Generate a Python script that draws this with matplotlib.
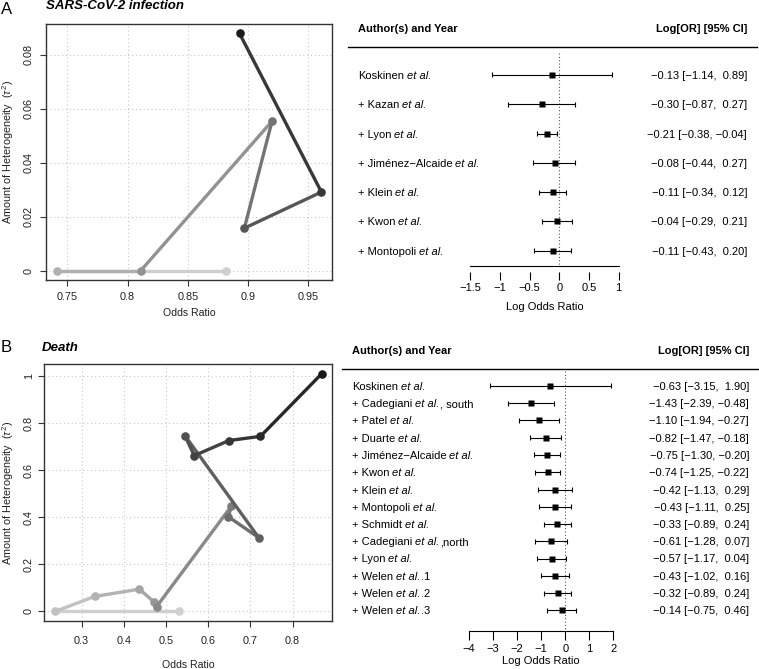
import matplotlib
matplotlib.use('Agg')
import matplotlib.pyplot as plt
from matplotlib.transforms import offset_copy
import numpy as np

plt.rcParams['font.family'] = ['Liberation Sans', 'DejaVu Sans']
plt.rcParams['mathtext.fontset'] = 'custom'
plt.rcParams['mathtext.rm'] = 'Liberation Sans'
plt.rcParams['mathtext.it'] = 'Liberation Sans:italic'
plt.rcParams['mathtext.bf'] = 'Liberation Sans:bold'

# ---------------- data ----------------
# Panel A: SARS-CoV-2 infection (cumulative meta-analysis)
A_names = ["Koskinen", "Kazan", "Lyon", "Jiménez\u2212Alcaide", "Klein", "Kwon", "Montopoli"]
A_suffix = ["", "", "", "", "", "", ""]
A_est = [-0.13, -0.30, -0.21, -0.08, -0.11, -0.04, -0.11]
A_lo = [-1.14, -0.87, -0.38, -0.44, -0.34, -0.29, -0.43]
A_hi = [0.89, 0.27, -0.04, 0.27, 0.12, 0.21, 0.20]
A_or = [0.882, 0.741, 0.811, 0.920, 0.897, 0.961, 0.893]
A_tau2 = [0.0, 0.0, 0.0, 0.0554, 0.0157, 0.0291, 0.0879]
A_xticks = [0.75, 0.8, 0.85, 0.9, 0.95]
A_yticks = [0, 0.02, 0.04, 0.06, 0.08]
A_ylabels = ["0", "0.02", "0.04", "0.06", "0.08"]
A_fticks = [-1.5, -1, -0.5, 0, 0.5, 1]
A_fticklabels = ["\u22121.5", "\u22121", "\u22120.5", "0", "0.5", "1"]

# Panel B: Death
B_names = ["Koskinen", "Cadegiani", "Patel", "Duarte", "Jiménez\u2212Alcaide", "Kwon", "Klein",
           "Montopoli", "Schmidt", "Cadegiani", "Lyon", "Welen", "Welen", "Welen"]
B_suffix = ["", ", south", "", "", "", "", "", "", "", ",north", "", ".1", ".2", ".3"]
B_est = [-0.63, -1.43, -1.10, -0.82, -0.75, -0.74, -0.42, -0.43, -0.33, -0.61, -0.57, -0.43, -0.32, -0.14]
B_lo = [-3.15, -2.39, -1.94, -1.47, -1.30, -1.25, -1.13, -1.11, -0.89, -1.28, -1.17, -1.02, -0.89, -0.75]
B_hi = [1.90, -0.48, -0.27, -0.18, -0.20, -0.22, 0.29, 0.25, 0.24, 0.07, 0.04, 0.16, 0.24, 0.46]
B_or = [0.532, 0.237, 0.331, 0.437, 0.471, 0.478, 0.655, 0.648, 0.720, 0.545, 0.567, 0.649, 0.724, 0.869]
B_tau2 = [0.0, 0.0, 0.064, 0.095, 0.042, 0.021, 0.448, 0.403, 0.314, 0.748, 0.663, 0.727, 0.745, 1.011]
B_xticks = [0.3, 0.4, 0.5, 0.6, 0.7, 0.8]
B_yticks = [0, 0.2, 0.4, 0.6, 0.8, 1.0]
B_ylabels = ["0", "0.2", "0.4", "0.6", "0.8", "1"]
B_fticks = [-4, -3, -2, -1, 0, 1, 2]
B_fticklabels = ["\u22124", "\u22123", "\u22122", "\u22121", "0", "1", "2"]

# ---------------- figure ----------------
W, H = 759, 669
fig = plt.figure(figsize=(W / 100, H / 100), dpi=100)
renderer = fig.canvas.get_renderer()


def rect(l, t, r, b):
    return [l / W, 1 - b / H, (r - l) / W, (b - t) / H]


def path_plot(r, x, y, xticks, yticks, ylabels, xpad, ypad, xlab_px, ylab_px):
    l, t, rr, b = r
    ax = fig.add_axes(rect(*r))
    n = len(x)
    levels = np.linspace(0.81, 0.10, n)
    cols = [str(round(v, 3)) for v in levels]
    for i in range(n - 1):
        ax.plot(x[i:i + 2], y[i:i + 2], color=cols[i], lw=2.4,
                solid_capstyle='round', zorder=3 + i)
    for i in range(n):
        ax.plot(x[i], y[i], 'o', color=cols[i], ms=6.2, mec='none', zorder=3 + i)
    ax.margins(0.04)
    ax.set_xticks(xticks)
    ax.set_xticklabels([f"{v:g}" for v in xticks])
    ax.set_yticks(yticks)
    ax.set_yticklabels(ylabels, rotation=90, va='center')
    ax.grid(True, ls=(0, (1, 2.5)), color='#c8c8c8', lw=0.8)
    ax.set_axisbelow(True)
    ax.tick_params(axis='both', direction='out', length=4, width=0.8,
                   color='#333333', labelsize=7.8, labelcolor='#222222')
    ax.tick_params(axis='x', pad=xpad)
    ax.tick_params(axis='y', pad=ypad)
    for s in ax.spines.values():
        s.set_color('#333333')
        s.set_linewidth(1.0)
    ax.set_xlabel("Odds Ratio", fontsize=7.6, va='center', color='#222222')
    ax.xaxis.set_label_coords(0.5, (b - xlab_px) / (b - t))
    ax.set_ylabel("Amount of Heterogeneity  $(\\tau^2)$", fontsize=7.8, va='center', color='#222222')
    ax.yaxis.set_label_coords((ylab_px - l) / (rr - l), 0.5)
    return ax


path_plot((46, 24, 332, 280), A_or, A_tau2, A_xticks, A_yticks, A_ylabels,
          xpad=5.0, ypad=5.0, xlab_px=313, ylab_px=8.5)
path_plot((44.3, 364.3, 332.3, 621), B_or, B_tau2, B_xticks, B_yticks, B_ylabels,
          xpad=7.0, ypad=3.5, xlab_px=665, ylab_px=8.5)


def fmt(v):
    return f"{v:5.2f}".replace("-", "\u2212")


def forest(r, x0, xs, y0, ys, names, suffix, est, lo, hi, fticks, fticklabels, L):
    ax = fig.add_axes(rect(*r))
    ax.set_axis_off()
    fx = lambda p: (p - x0) / xs
    fy = lambda p: (p - y0) / ys
    ax.set_xlim(fx(r[0]), fx(r[2]))
    ax.set_ylim(fy(r[3]), fy(r[1]))
    n = len(est)
    rows = np.arange(n)
    fs = 8
    space_px = 0.278 * fs * 100 / 72
    base_drop = -4.0  # baseline sits ~4 px below the row centre
    # header
    ax.text(fx(L['left']), fy(L['header']), "Author(s) and Year", fontweight='bold',
            fontsize=fs, ha='left', va='center')
    ax.text(fx(L['right']), fy(L['header']), "Log[OR] [95% CI]", fontweight='bold',
            fontsize=fs, ha='right', va='center')
    ax.plot([fx(L['line_x0']), fx(L['line_x1'])], [fy(L['line'])] * 2, color='black', lw=1.0)
    # zero reference line
    ax.vlines(0, fy(L['zero_top']), fy(L['axis']), colors='#555555', lw=0.8,
              linestyles=(0, (1, 2)))
    # CIs and estimates
    cap = L['cap'] / ys
    ax.hlines(rows, lo, hi, colors='black', lw=0.8)
    ax.vlines(lo, rows - cap, rows + cap, colors='black', lw=0.8)
    ax.vlines(hi, rows - cap, rows + cap, colors='black', lw=0.8)
    ax.plot(est, rows, 's', color='black', ms=4.4, mec='none', zorder=5)
    # row text (name, italic "et al.", suffix) on a shared baseline
    xl = fx(L['left'])
    for i in range(n):
        parts = [(("" if i == 0 else "+ ") + names[i], 'normal', 0.0),
                 ("et al.", 'italic', space_px)]
        suf = suffix[i]
        if suf:
            if suf.startswith(" "):
                parts.append((suf.strip(), 'normal', space_px))
            else:
                parts.append((suf, 'normal', 0.8))
        dx = 0.0
        for s, style, gap in parts:
            dx += gap
            tr = offset_copy(ax.transData, fig=fig, x=dx, y=base_drop, units='dots')
            t = ax.text(xl, rows[i], s, fontsize=fs, fontstyle=style, ha='left',
                        va='baseline', transform=tr)
            dx += t.get_window_extent(renderer).width
        ax.text(fx(L['right']), rows[i], f"{fmt(est[i])} [{fmt(lo[i])}, {fmt(hi[i])}]",
                fontsize=fs, ha='right', va='baseline',
                transform=offset_copy(ax.transData, fig=fig, x=0, y=base_drop, units='dots'))
    # x axis
    ax.plot([fticks[0], fticks[-1]], [fy(L['axis'])] * 2, color='black', lw=0.8)
    ax.vlines(fticks, fy(L['tick0']), fy(L['tick1']), colors='black', lw=0.8)
    for t, tl in zip(fticks, fticklabels):
        ax.text(t, fy(L['ticklab']), tl, fontsize=fs, ha='center', va='center')
    ax.text((fticks[0] + fticks[-1]) / 2, fy(L['xlab']), "Log Odds Ratio", fontsize=fs,
            ha='center', va='center')
    return ax


forest((335, 10, 759, 325), 559.3, 59.2, 75.0, 29.3,
       A_names, A_suffix, A_est, A_lo, A_hi, A_fticks, A_fticklabels,
       dict(left=357.7, right=747, header=29, line=46.7, line_x0=348, line_x1=757,
            zero_top=53, axis=265.7, tick0=272, tick1=280, ticklab=288, xlab=307.5, cap=2.5))

forest((335, 338, 759, 669), 565.3, 24.05, 386.0, 17.25,
       B_names, B_suffix, B_est, B_lo, B_hi, B_fticks, B_fticklabels,
       dict(left=351.7, right=749, header=351, line=369.3, line_x0=341.7, line_x1=759,
            zero_top=371, axis=631, tick0=631, tick1=640, ticklab=649.5, xlab=661, cap=2.5))

# panel labels and titles
def ftext(px, py, s, **kw):
    fig.text(px / W, 1 - py / H, s, **kw)

ftext(0.5, 9.5, "A", fontsize=12, ha='left', va='center')
ftext(46.5, 6, "SARS-CoV-2 infection", fontsize=9.5, fontweight='bold', fontstyle='italic',
      ha='left', va='center')
ftext(0.5, 348, "B", fontsize=12, ha='left', va='center')
ftext(41.7, 348, "Death", fontsize=9.5, fontweight='bold', fontstyle='italic',
      ha='left', va='center')

fig.savefig("out.png", dpi=100)
